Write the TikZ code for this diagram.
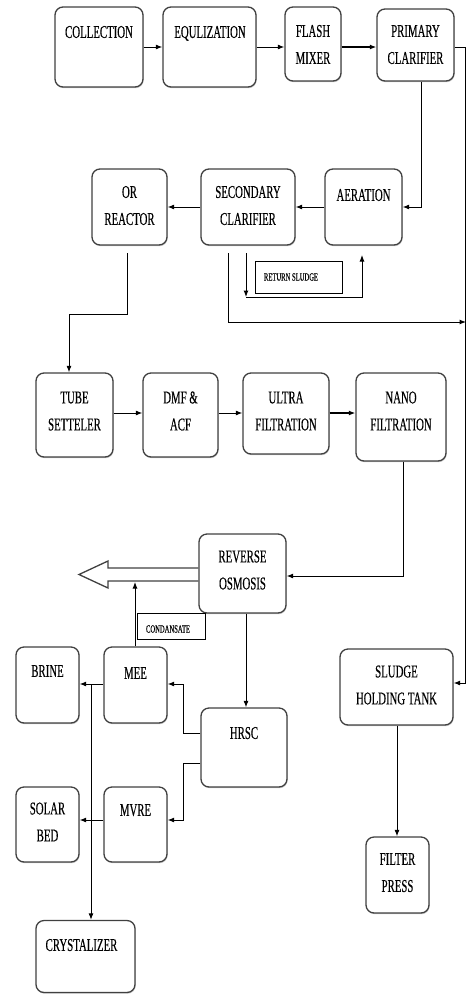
\documentclass[tikz,border=0pt]{standalone}
\usepackage{fontspec}
\setmainfont{Liberation Serif}[FakeBold=0.4]
\usepackage{graphicx}
\usetikzlibrary{arrows.meta,shadows}
\newcommand\tl[1]{\scalebox{0.6}[1]{\begin{tabular}{@{}c@{}}#1\end{tabular}}}
\newcommand\stl[1]{\scalebox{0.6}[1]{#1}}
\begin{document}
\begin{tikzpicture}[x=1pt,y=-1pt,
  blk/.style={draw=black!75, line width=1.3pt, rounded corners=8pt, fill=white, inner sep=0pt,
    drop shadow={shadow xshift=0.6pt, shadow yshift=-1.2pt, fill=black!35, opacity=0.6}},
  lbl/.style={inner sep=0pt, font=\fontsize{18}{27}\selectfont},
  slbl/.style={inner sep=0pt, font=\fontsize{11}{13}\selectfont},
  tag/.style={draw=black, line width=1pt, inner sep=0pt},
  arr/.style={draw=black, line width=1pt, -{Latex[length=6.5pt,width=5pt]}},
  hollow/.style={draw=black!75, line width=1.3pt, line join=miter}]
\useasboundingbox (0,0) rectangle (466,994);

% boxes
\node[blk, minimum width=88pt, minimum height=80pt] (col) at (99,47) {};
\node[blk, minimum width=93pt, minimum height=80pt] (equ) at (209.5,47) {};
\node[blk, minimum width=56pt, minimum height=74pt] (fla) at (313,44) {};
\node[blk, minimum width=77pt, minimum height=72pt] (pri) at (415.5,45) {};
\node[blk, minimum width=75pt, minimum height=76pt] (orr) at (129.5,207) {};
\node[blk, minimum width=94pt, minimum height=76pt] (sec) at (248,207) {};
\node[blk, minimum width=77pt, minimum height=76pt] (aer) at (363.5,207) {};
\node[blk, minimum width=77pt, minimum height=84pt] (tub) at (74.5,415) {};
\node[blk, minimum width=75pt, minimum height=84pt] (dmf) at (180.5,415) {};
\node[blk, minimum width=86pt, minimum height=81pt] (ult) at (286,413.5) {};
\node[blk, minimum width=90pt, minimum height=88pt] (nan) at (401,417) {};
\node[blk, minimum width=87pt, minimum height=79pt] (ro) at (242.5,573.5) {};
\node[blk, minimum width=63pt, minimum height=76pt] (brn) at (47.5,685) {};
\node[blk, minimum width=63pt, minimum height=76pt] (mee) at (135.5,685) {};
\node[blk, minimum width=86pt, minimum height=79pt] (hrs) at (244,747.5) {};
\node[blk, minimum width=113pt, minimum height=76pt] (slu) at (396.5,687) {};
\node[blk, minimum width=63pt, minimum height=75pt] (sol) at (47.5,824.5) {};
\node[blk, minimum width=63pt, minimum height=75pt] (mvr) at (135.5,824.5) {};
\node[blk, minimum width=63pt, minimum height=76pt] (fil) at (397.5,875) {};
\node[blk, minimum width=99pt, minimum height=72pt] (cry) at (85.5,956.5) {};

% labels
\node[lbl] (tcol) at (99,32.5) {\tl{COLLECTION}};
\node[lbl] (tequ) at (210,32.5) {\tl{EQULIZATION}};
\node[lbl] (tfla) at (313,45) {\tl{FLASH\\MIXER}};
\node[lbl] (tpri) at (415.5,45) {\tl{PRIMARY\\CLARIFIER}};
\node[lbl] (torr) at (129.5,206) {\tl{OR\\REACTOR}};
\node[lbl] (tsec) at (248,206) {\tl{SECONDARY\\CLARIFIER}};
\node[lbl] (taer) at (363.5,195.5) {\tl{AERATION}};
\node[lbl] (ttub) at (74.5,411.5) {\tl{TUBE\\SETTELER}};
\node[lbl] (tdmf) at (180.5,411.5) {\tl{DMF \&\\ACF}};
\node[lbl] (tult) at (286,411.5) {\tl{ULTRA\\FILTRATION}};
\node[lbl] (tnan) at (401,411.5) {\tl{NANO\\FILTRATION}};
\node[lbl] (tro) at (242.5,570.5) {\tl{REVERSE\\OSMOSIS}};
\node[lbl] (tbrn) at (47.5,671.5) {\tl{BRINE}};
\node[lbl] (tmee) at (135.5,673.5) {\tl{MEE}};
\node[lbl] (thrs) at (244,733.5) {\tl{HRSC}};
\node[lbl] (tslu) at (396.5,685.5) {\tl{SLUDGE\\HOLDING TANK}};
\node[lbl] (tsol) at (47.5,822.5) {\tl{SOLAR\\BED}};
\node[lbl] (tmvr) at (135.5,810.5) {\tl{MVRE}};
\node[lbl] (tfil) at (397.5,873) {\tl{FILTER\\PRESS}};
\node[lbl] (tcry) at (81.5,945.5) {\tl{CRYSTALIZER}};

% small tag boxes
\node[tag, minimum width=87pt, minimum height=32pt] (rsb) at (298.5,277) {};
\node[slbl] (rst) at (291,277) {\stl{RETURN SLUDGE}};
\node[tag, minimum width=68pt, minimum height=26pt] (cdb) at (171,626) {};
\node[slbl] (cdt) at (168,629) {\stl{CONDANSATE}};

% top row
\draw[arr] (col.east |- 0,47) -- (equ.west |- 0,47);
\draw[arr] (equ.east |- 0,47) -- (fla.west |- 0,47);
\draw[arr, line width=1.4pt] (fla.east |- 0,47) -- (pri.west |- 0,47);
\draw[arr] (pri.east |- 0,47) -- (465,47) -- (465,683) -- (slu.east |- 0,683);
\draw[arr] (pri.south -| 421,0) -- (421,207) -- (aer.east);
\draw[arr] (aer.west) -- (sec.east);
\draw[arr] (sec.west) -- (orr.east);

% secondary clarifier sludge lines
\coordinate (s1) at (228,253);
\coordinate (e1) at (466,322);
\draw[arr] (s1) -- (228,322) -- (e1);
\coordinate (r1) at (246,253);
\coordinate (r2) at (246,297);
\coordinate (r3) at (362,255);
\draw[arr] (r1) -- (r2);
\draw[arr] (r2) -- (362,297) -- (r3);

% OR reactor to tube settler
\coordinate (o1) at (127,253);
\draw[arr] (o1) -- (127,314) -- (69,314) -- (tub.north -| 69,0);

% filtration row
\draw[arr] (tub.east |- 0,413) -- (dmf.west |- 0,413);
\draw[arr] (dmf.east |- 0,413) -- (ult.west |- 0,413);
\draw[arr, line width=1.6pt] (ult.east |- 0,413) -- (nan.west |- 0,413);
\draw[arr] (nan.south -| 403,0) -- (403,576) -- (ro.east |- 0,576);

% hollow outlet arrow
\draw[hollow] (ro.west |- 0,568) -- (108,568) -- (108,561) -- (79,574.5) -- (108,588) -- (108,581) -- (ro.west |- 0,581);

% lower section
\draw[arr] (mee.north -| 135,0) -- (135,582);
\draw[arr] (ro.south -| 246,0) -- (hrs.north -| 246,0);
\draw[arr] (hrs.west |- 0,733) -- (183,733) -- (183,684) -- (mee.east |- 0,684);
\draw[arr] (hrs.west |- 0,763) -- (183,763) -- (183,820) -- (mvr.east |- 0,820);
\draw[arr] (mee.west |- 0,684) -- (brn.east |- 0,684);
\coordinate (v1) at (91,684);
\draw[arr] (v1) -- (cry.north -| 91,0);
\draw[arr] (mvr.west |- 0,820) -- (sol.east |- 0,820);
\draw[arr] (slu.south -| 397,0) -- (fil.north -| 397,0);
\end{tikzpicture}
\end{document}
